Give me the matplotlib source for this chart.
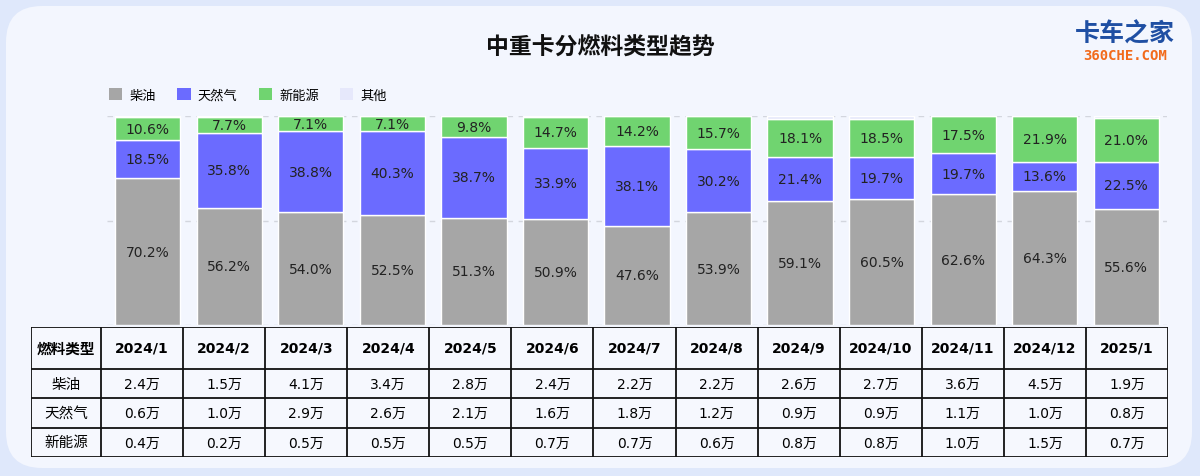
import matplotlib.pyplot as plt
from matplotlib.patches import FancyBboxPatch, Patch
import numpy as np

plt.rcParams['font.family'] = ['Noto Sans CJK SC', 'DejaVu Sans']
NUM_FONT = ['DejaVu Sans', 'Noto Sans CJK SC']

months = ["2024/1", "2024/2", "2024/3", "2024/4", "2024/5", "2024/6", "2024/7",
          "2024/8", "2024/9", "2024/10", "2024/11", "2024/12", "2025/1"]
series_names = ["柴油", "天然气", "新能源", "其他"]
colors = ["#a6a6a6", "#6b6bff", "#70d470", "#e6e8fb"]

diesel_pct = [70.2, 56.2, 54.0, 52.5, 51.3, 50.9, 47.6, 53.9, 59.1, 60.5, 62.6, 64.3, 55.6]
gas_pct = [18.5, 35.8, 38.8, 40.3, 38.7, 33.9, 38.1, 30.2, 21.4, 19.7, 19.7, 13.6, 22.5]
nev_pct = [10.6, 7.7, 7.1, 7.1, 9.8, 14.7, 14.2, 15.7, 18.1, 18.5, 17.5, 21.9, 21.0]
other_pct = [0.7, 0.3, 0.1, 0.1, 0.2, 0.5, 0.1, 0.2, 1.4, 1.3, 0.2, 0.2, 0.9]

# sales volume, 万辆
diesel_vol = [2.4, 1.5, 4.1, 3.4, 2.8, 2.4, 2.2, 2.2, 2.6, 2.7, 3.6, 4.5, 1.9]
gas_vol = [0.6, 1.0, 2.9, 2.6, 2.1, 1.6, 1.8, 1.2, 0.9, 0.9, 1.1, 1.0, 0.8]
nev_vol = [0.4, 0.2, 0.5, 0.5, 0.5, 0.7, 0.7, 0.6, 0.8, 0.8, 1.0, 1.5, 0.7]

W, H = 1200, 477
fig = plt.figure(figsize=(12, 4.77), dpi=100)
fig.patch.set_facecolor("#dfe8fb")

# card background
card = FancyBboxPatch((6 / W, 8 / H), 1186 / W, 462 / H,
                      boxstyle="round,pad=0,rounding_size=0.03",
                      transform=fig.transFigure, facecolor="#f3f6fe",
                      edgecolor="none", zorder=-10, mutation_aspect=W / H)
fig.patches.append(card)

# title and logo
fig.text(600 / W, 1 - 48 / H, "中重卡分燃料类型趋势", ha="center", va="center",
         fontsize=16.5, fontweight="bold", color="#111111")
fig.text(1125 / W, 1 - 34 / H, "卡车之家", ha="center", va="center",
         fontsize=18, fontweight="heavy", color="#1f4fa3", style="italic")
fig.text(1125 / W, 1 - 56 / H, "360CHE.COM", ha="center", va="center",
         fontsize=10, fontweight="bold", color="#f26a1b", family="DejaVu Sans Mono")

# --- stacked bars ---
ax = fig.add_axes([107 / W, 1 - 326 / H, 1060 / W, 209 / H])
ax.set_facecolor("none")
x = np.arange(len(months))
stack = [diesel_pct, gas_pct, nev_pct, other_pct]
bottom = np.zeros(len(months))
for i, vals in enumerate(stack):
    vals = np.array(vals)
    ax.bar(x, vals, 0.8, bottom=bottom, color=colors[i], edgecolor="white",
           linewidth=1, zorder=3)
    if i < 3:
        for xi, b, v in zip(x, bottom, vals):
            ax.text(xi, b + v / 2, f"{v:.1f}%", ha="center", va="center",
                    fontsize=10, color="#222222", zorder=4, family=NUM_FONT)
    bottom += vals

ax.set_xlim(-0.5, len(months) - 0.5)
ax.set_ylim(0, 100)
ax.set_yticks([0, 50, 100])
ax.set_xticks([])
ax.yaxis.grid(True, linestyle=(0, (4, 4)), color="#d3d6de", linewidth=1, zorder=0)
ax.tick_params(left=False, labelleft=False)
for s in ax.spines.values():
    s.set_visible(False)

handles = [Patch(facecolor=c, edgecolor="none") for c in colors]
fig.legend(handles, series_names, loc="center left",
           bbox_to_anchor=(104 / W, 1 - 96 / H), ncol=4, frameon=False,
           fontsize=9.5, handlelength=1.0, handleheight=1.0,
           handletextpad=0.55, columnspacing=1.6, borderaxespad=0)

# --- data table ---
tx = fig.add_axes([31 / W, 1 - 458 / H, 1137 / W, 130 / H])
tx.set_xlim(0, 1137)
tx.set_ylim(130, 0)
tx.axis("off")
first_w = 70
col_w = (1137 - first_w) / len(months)
row_edges = [0, 42, 71, 101, 130]
col_edges = [0] + [first_w + col_w * k for k in range(len(months) + 1)]
tx.fill_between([0, 1137], 0, 130, color="#f6f8fe", zorder=1)
tx.hlines(row_edges, 0, 1137, color="#111111", linewidth=1.3, zorder=2)
tx.vlines(col_edges, 0, 130, color="#111111", linewidth=1.3, zorder=2)

def cx(k):
    return (col_edges[k] + col_edges[k + 1]) / 2

def cy(r):
    return (row_edges[r] + row_edges[r + 1]) / 2

tx.text(cx(0), cy(0), "燃料类型", ha="center", va="center", fontsize=10.5,
        fontweight="bold", zorder=3)
for k, m in enumerate(months):
    tx.text(cx(k + 1), cy(0), m, ha="center", va="center", fontsize=10,
            fontweight="bold", zorder=3, family=NUM_FONT)
for r, (name, vals) in enumerate(zip(series_names[:3], [diesel_vol, gas_vol, nev_vol])):
    tx.text(cx(0), cy(r + 1), name, ha="center", va="center", fontsize=10.5, zorder=3)
    for k, v in enumerate(vals):
        tx.text(cx(k + 1), cy(r + 1), f"{v:.1f}万", ha="center", va="center",
                fontsize=10, zorder=3, family=NUM_FONT)

fig.savefig("out.png", dpi=100, facecolor=fig.get_facecolor())
